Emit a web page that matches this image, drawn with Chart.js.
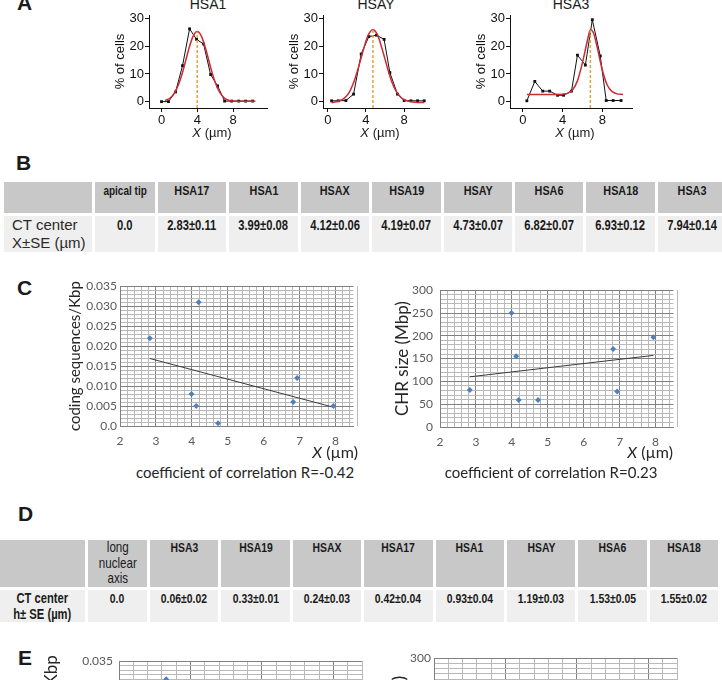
<!DOCTYPE html>
<html>
<head>
<meta charset="utf-8">
<script src="https://cdn.jsdelivr.net/npm/chart.js@4.4.1/dist/chart.umd.min.js"></script>
<style>
  html, body { margin: 0; padding: 0; background: #fff; }
  #page { position: relative; width: 722px; height: 680px; overflow: hidden;
          font-family: "Liberation Sans", Arial, sans-serif; color: #1a1a1a; }
  #page canvas, .txt, .panel, table { position: absolute; }
  .panel { font-weight: bold; font-size: 21px; line-height: 1; }
  .txt { white-space: nowrap; line-height: 16px; }
  .ctr { transform: translateX(-50%); }
  .calib { font-family: Lato, "Liberation Sans", sans-serif; color: #262626; }
  table.tb { border-collapse: separate; border-spacing: 3px; table-layout: fixed;
             font-family: "Liberation Sans", Arial, sans-serif; color: #1a1a1a; }
  table.tb td { padding: 0; vertical-align: top; text-align: center; white-space: pre-line; overflow: hidden; }
  table.tb td span { display: inline-block; transform: scaleX(0.8); transform-origin: 50% 0; }
  table.tb tr.hd td { background: #c8c8c8; font-weight: bold; }
  table.tb tr.dt td { background: #efefef; }
  #tblB tr.hd { height: 31px; }
  #tblB tr.hd td { font-size: 13.5px; line-height: 15px; padding-top: 1px; }
  #tblB tr.hd td.sub { font-size: 12.5px; padding-top: 2px; }
  #tblB tr.dt { height: 34px; }
  #tblB tr.dt td { font-size: 14px; line-height: 16px; padding-top: 1px; font-weight: bold; }
  #tblB tr.dt td.rh { font-weight: normal; font-size: 15px; line-height: 18px; text-align: left; padding: 0 0 0 8px; color: #2a2a2a; }
  #tblB tr.dt td.rh span { transform: none; }
  #tblD tr.hd { height: 47px; }
  #tblD tr.hd td { font-size: 13px; line-height: 15.5px; }
  #tblD tr.hd td.sub { font-weight: normal; font-size: 14.5px; }
  #tblD tr.dt { height: 32px; }
  #tblD tr.dt td { font-size: 13px; line-height: 16px; font-weight: bold; padding-top: 1px; }
  #tblD tr.dt td.rh { font-size: 14px; padding-top: 0; }
</style>
</head>
<body>
<div id="page">
  <div class="panel" style="left:17px;top:-8px">A</div>
  <div class="panel" style="left:16px;top:152px">B</div>
  <div class="panel" style="left:17px;top:277px">C</div>
  <div class="panel" style="left:18px;top:503px">D</div>
  <div class="panel" style="left:18px;top:647px">E</div>

  <div class="txt ctr" style="left:208px;top:-4px;font-size:14px">HSA1</div>
  <div class="txt ctr" style="left:376px;top:-4px;font-size:14px">HSAY</div>
  <div class="txt ctr" style="left:571px;top:-4px;font-size:14px">HSA3</div>
  <canvas id="a1" width="172" height="126" style="left:100px;top:0"></canvas>
  <canvas id="a2" width="160" height="126" style="left:274px;top:0"></canvas>
  <canvas id="a3" width="176" height="126" style="left:461px;top:0"></canvas>
  <div class="txt ctr" style="left:212px;top:125px;font-size:13px"><i>X</i> (µm)</div>
  <div class="txt ctr" style="left:380px;top:125px;font-size:13px"><i>X</i> (µm)</div>
  <div class="txt ctr" style="left:575px;top:125px;font-size:13px"><i>X</i> (µm)</div>

  <table id="tblB" class="tb" style="left:1px;top:179px"></table>

  <canvas id="c1" width="305" height="170" style="left:60px;top:276px"></canvas>
  <canvas id="c2" width="300" height="170" style="left:385px;top:276px"></canvas>
  <div class="txt calib" style="right:364px;top:443px;font-size:16px;line-height:18px"><i>X</i> (µm)</div>
  <div class="txt calib" style="right:49px;top:443px;font-size:16px;line-height:18px"><i>X</i> (µm)</div>
  <div class="txt calib ctr" style="left:245px;top:463px;font-size:15px;line-height:18px">coefficient of correlation R=-0.42</div>
  <div class="txt calib ctr" style="left:551px;top:463px;font-size:15px;line-height:18px">coefficient of correlation R=0.23</div>

  <table id="tblD" class="tb" style="left:-3px;top:537px"></table>

  <canvas id="e1" width="340" height="200" style="left:30px;top:648px"></canvas>
  <canvas id="e2" width="305" height="200" style="left:380px;top:648px"></canvas>
</div>

<script>
// panel A - % of cells vs X (um)
const aXTicks = [0, 4, 8];
const aYTicks = [0, 10, 20, 30];

const hsa1X = [0, 0.78, 1.57, 2.35, 3.14, 3.92, 4.71, 5.49, 6.27, 7.06, 7.84, 8.63, 9.41, 10.2];
const hsa1Y = [0, 0, 3.5, 13, 26.3, 22.5, 20.8, 9.8, 5.7, 0.2, 0.2, 0.2, 0.2, 0.2];
const hsa1FitX = [0.4, 1, 1.5, 2, 2.5, 3, 3.5, 4, 4.5, 5, 5.5, 6, 6.5, 7, 7.5, 8, 8.5, 9.5, 10.5];
const hsa1FitY = [0.4, 1.4, 3.4, 7, 12.3, 18.4, 23.4, 25.3, 23.4, 18.4, 12.3, 7, 3.4, 1.4, 0.5, 0.2, 0.1, 0.1, 0.1];

const hsayX = [0.4, 1.1, 1.9, 2.7, 3.5, 4.3, 5.1, 5.9, 6.5, 7.3, 8.0, 8.7, 9.4, 10.1];
const hsayY = [0.3, 0.3, 0.4, 2.7, 17.2, 23.5, 24, 22.5, 10.5, 2.7, 0.4, 0.3, 0.3, 0.3];
const hsayFitX = [0.4, 1.2, 1.7, 2.2, 2.7, 3.2, 3.7, 4.2, 4.7, 5.2, 5.7, 6.2, 6.7, 7.2, 7.7, 8.2, 8.7, 9.4, 10.1];
const hsayFitY = [-0.4, 0.3, 1.2, 3.1, 6.8, 12.2, 18.4, 23.8, 26, 24.2, 18.9, 12.8, 7.2, 3.5, 1.4, 0.4, 0, -0.3, -0.3];

const hsa3X = [0.4, 1.2, 2.0, 2.7, 3.5, 4.1, 4.9, 5.5, 6.3, 7.0, 7.8, 8.4, 9.1, 9.9];
const hsa3Y = [0.3, 7.3, 3.8, 3.8, 2.3, 2.3, 3.8, 16.8, 13.2, 29.6, 16.5, 0.4, 0.4, 0.4];
const hsa3FitX = [0.4, 1, 2, 3, 4, 4.5, 5, 5.5, 6, 6.5, 6.8, 7.1, 7.5, 8, 8.5, 9, 9.5, 10.1];
const hsa3FitY = [2.6, 2.6, 2.6, 2.6, 2.7, 3.0, 4.2, 7.5, 14, 22, 26, 25, 19.5, 11.5, 6, 3.6, 2.8, 2.6];

const peakX = [3.99, 4.73, 6.8];
const peakY = [25.3, 26, 26];

// table B
const bHeads = ['apical tip', 'HSA17', 'HSA1', 'HSAX', 'HSA19', 'HSAY', 'HSA6', 'HSA18', 'HSA3'];
const bVals = ['0.0', '2.83±0.11', '3.99±0.08', '4.12±0.06', '4.19±0.07', '4.73±0.07', '6.82±0.07', '6.93±0.12', '7.94±0.14'];

// panel C / E - one value per chromosome
const chrNames = ['HSA17', 'HSA1', 'HSAX', 'HSA19', 'HSAY', 'HSA6', 'HSA18', 'HSA3'];
const ctX = [2.83, 3.99, 4.12, 4.19, 4.73, 6.82, 6.93, 7.94];
const ctH = [0.42, 0.93, 0.24, 0.33, 1.19, 1.53, 1.55, 0.06];
const codingSeq = [0.022, 0.008, 0.005, 0.031, 0.0007, 0.006, 0.012, 0.005];
const chrSize = [81, 250, 155, 59, 59, 171, 78, 197];
const trend1X = [2.83, 7.94];
const trend1Y = [0.0169, 0.0047];
const trend2X = [2.83, 7.94];
const trend2Y = [110, 157];

const cXTicks = [2, 3, 4, 5, 6, 7, 8];
const cXLabels = ['2', '3', '4', '5', '6', '7', '8'];
const seqTicks = [0, 0.005, 0.01, 0.015, 0.02, 0.025, 0.03, 0.035];
const seqLabels = ['0.0', '0.005', '0.010', '0.015', '0.020', '0.025', '0.030', '0.035'];
const sizeTicks = [0, 50, 100, 150, 200, 250, 300];
const sizeLabels = ['0', '50', '100', '150', '200', '250', '300'];
const hTicks = [0, 0.5, 1, 1.5];
const hLabels = ['0.0', '0.5', '1.0', '1.5'];

// table D
const dHeads = ['long\nnuclear\naxis', 'HSA3', 'HSA19', 'HSAX', 'HSA17', 'HSA1', 'HSAY', 'HSA6', 'HSA18'];
const dVals = ['0.0', '0.06±0.02', '0.33±0.01', '0.24±0.03', '0.42±0.04', '0.93±0.04', '1.19±0.03', '1.53±0.05', '1.55±0.02'];

Chart.defaults.font.family = '"Liberation Sans", Arial, sans-serif';
Chart.defaults.animation = false;

const pts = (xs, ys) => xs.map((x, i) => ({ x, y: ys[i] }));
const A_YMIN = -2.3, A_YMAX = 31.3;

function distChart(id, xs, ys, fitX, fitY, k, xMin, xMax) {
  new Chart(document.getElementById(id), {
    type: 'scatter',
    data: {
      datasets: [
        { data: [{ x: peakX[k], y: A_YMIN }, { x: peakX[k], y: peakY[k] }], showLine: true,
          borderColor: '#e6a23a', borderWidth: 1.5, borderDash: [3, 2], pointRadius: 0 },
        { data: pts(fitX, fitY), showLine: true, borderColor: '#cc2a36', borderWidth: 1.5,
          cubicInterpolationMode: 'monotone', pointRadius: 0 },
        { data: pts(xs, ys), showLine: true, borderColor: '#111', borderWidth: 1,
          pointStyle: 'rect', pointRadius: 2, pointBackgroundColor: '#111', pointBorderWidth: 0 }
      ]
    },
    options: {
      responsive: false,
      layout: { padding: { top: 15, right: 5 } },
      plugins: { legend: { display: false }, tooltip: { enabled: false } },
      scales: {
        x: {
          type: 'linear', min: xMin, max: xMax,
          afterBuildTicks: s => { s.ticks = aXTicks.map(v => ({ value: v })); },
          afterFit: s => { s.height = 18; },
          grid: { drawOnChartArea: false, color: '#111', tickLength: 4 },
          border: { color: '#111' },
          ticks: { color: '#111', font: { size: 13 }, padding: 1, maxRotation: 0 }
        },
        y: {
          type: 'linear', min: A_YMIN, max: A_YMAX,
          afterBuildTicks: s => { s.ticks = aYTicks.map(v => ({ value: v })); },
          afterFit: s => { s.width = 49; },
          grid: { drawOnChartArea: false, color: '#111', tickLength: 4 },
          border: { color: '#111' },
          ticks: { color: '#111', font: { size: 13 }, padding: 1 },
          title: { display: true, text: '% of cells', color: '#111', font: { size: 13 }, padding: { top: 13, bottom: 0 } }
        }
      }
    }
  });
}

distChart('a1', hsa1X, hsa1Y, hsa1FitX, hsa1FitY, 0, -1.4, 11.8);
distChart('a2', hsayX, hsayY, hsayFitX, hsayFitY, 1, -0.5, 10.6);
distChart('a3', hsa3X, hsa3Y, hsa3FitX, hsa3FitY, 2, -1.3, 11.0);

// gridded axis like an Excel chart: minor lines everywhere, labels on the major ones
const minorCol = '#b9b9b9', majorCol = '#808080';
const calibri = 'Lato, "Liberation Sans", sans-serif';
const near = (a, b) => Math.abs(a - b) < 1e-9;

function gridAxis(min, max, step, major, labels, fit, pad) {
  return {
    type: 'linear', min, max,
    afterBuildTicks: s => {
      const n = Math.round((max - min) / step);
      const t = [];
      for (let i = 0; i <= n; i++) t.push({ value: +(min + i * step).toFixed(6) });
      if (t[t.length - 1].value < max - 1e-9) t.push({ value: max });
      s.ticks = t;
    },
    afterFit: fit,
    grid: { color: c => (c.tick && major.some(m => near(m, c.tick.value))) ? majorCol : minorCol, drawTicks: false },
    border: { color: majorCol },
    ticks: {
      autoSkip: false, maxRotation: 0, color: '#595959', padding: pad,
      font: { family: calibri, size: 12 },
      callback: v => { const i = major.findIndex(m => near(m, v)); return i >= 0 ? labels[i] : ''; }
    }
  };
}

function corrChart(id, xs, ys, trX, trY, xAxis, yAxis, yTitle, pad) {
  const ds = [{ data: pts(xs, ys), pointStyle: 'rectRot', pointRadius: 3, pointBorderWidth: 0,
                pointBackgroundColor: '#4f81bd' }];
  if (trX) ds.push({ data: pts(trX, trY), showLine: true, borderColor: '#3a3a3a', borderWidth: 1, pointRadius: 0 });
  yAxis.title = { display: true, text: yTitle.text, color: '#262626',
                  font: { family: calibri, size: yTitle.size }, padding: { top: yTitle.pad, bottom: 0 } };
  new Chart(document.getElementById(id), {
    type: 'scatter',
    data: { datasets: ds },
    options: {
      responsive: false,
      layout: { padding: pad },
      plugins: { legend: { display: false }, tooltip: { enabled: false } },
      scales: { x: xAxis, y: yAxis }
    }
  });
}

corrChart('c1', ctX, codingSeq, trend1X, trend1Y,
  gridAxis(2, 8.5, 0.2, cXTicks, cXLabels, s => { s.height = 20; }, 8),
  gridAxis(0, 0.035, 0.001, seqTicks, seqLabels, s => { s.width = 60; }, 3),
  { text: 'coding sequences/Kbp', size: 15, pad: 6 },
  { top: 10, right: 7 });

corrChart('c2', ctX, chrSize, trend2X, trend2Y,
  gridAxis(2, 8.5, 0.2, cXTicks, cXLabels, s => { s.height = 19; }, 8),
  gridAxis(0, 300, 10, sizeTicks, sizeLabels, s => { s.width = 55; }, 7),
  { text: 'CHR size (Mbp)', size: 17, pad: 7 },
  { top: 13, right: 6.5 });

corrChart('e1', ctH, codingSeq, null, null,
  gridAxis(0, 1.7, 0.1, hTicks, hLabels, s => { s.height = 29; }, 8),
  gridAxis(0, 0.035, 0.001, seqTicks, seqLabels, s => { s.width = 89; }, 6),
  { text: 'coding sequences/Kbp', size: 17, pad: 11 },
  { top: 10, right: 5 });

corrChart('e2', ctH, chrSize, null, null,
  gridAxis(0, 1.7, 0.1, hTicks, hLabels, s => { s.height = 33; }, 8),
  gridAxis(0, 300, 10, sizeTicks, sizeLabels, s => { s.width = 54; }, 3),
  { text: 'CHR size (Mbp)', size: 18, pad: 8 },
  { top: 10, right: 5 });

// tables
function buildTable(id, firstW, secondW, heads, vals, rowHead) {
  const t = document.getElementById(id);
  const w = [firstW, secondW].concat(heads.slice(1).map(() => 68.4));
  t.style.width = (w.reduce((a, b) => a + b, 0) + 3 * (w.length + 1)) + 'px';
  let html = '<colgroup>' + w.map(x => `<col style="width:${x}px">`).join('') + '</colgroup>';
  html += '<tr class="hd"><td></td>' + heads.map((h, i) => `<td${i === 0 ? ' class="sub"' : ''}><span>${h}</span></td>`).join('') + '</tr>';
  html += `<tr class="dt"><td class="rh"><span>${rowHead}</span></td>` + vals.map(v => `<td><span>${v}</span></td>`).join('') + '</tr>';
  t.innerHTML = html;
}
buildTable('tblB', 88, 60, bHeads, bVals, 'CT center\nX±SE (µm)');
buildTable('tblD', 85, 59, dHeads, dVals, 'CT center\nh± SE (µm)');
</script>
</body>
</html>
